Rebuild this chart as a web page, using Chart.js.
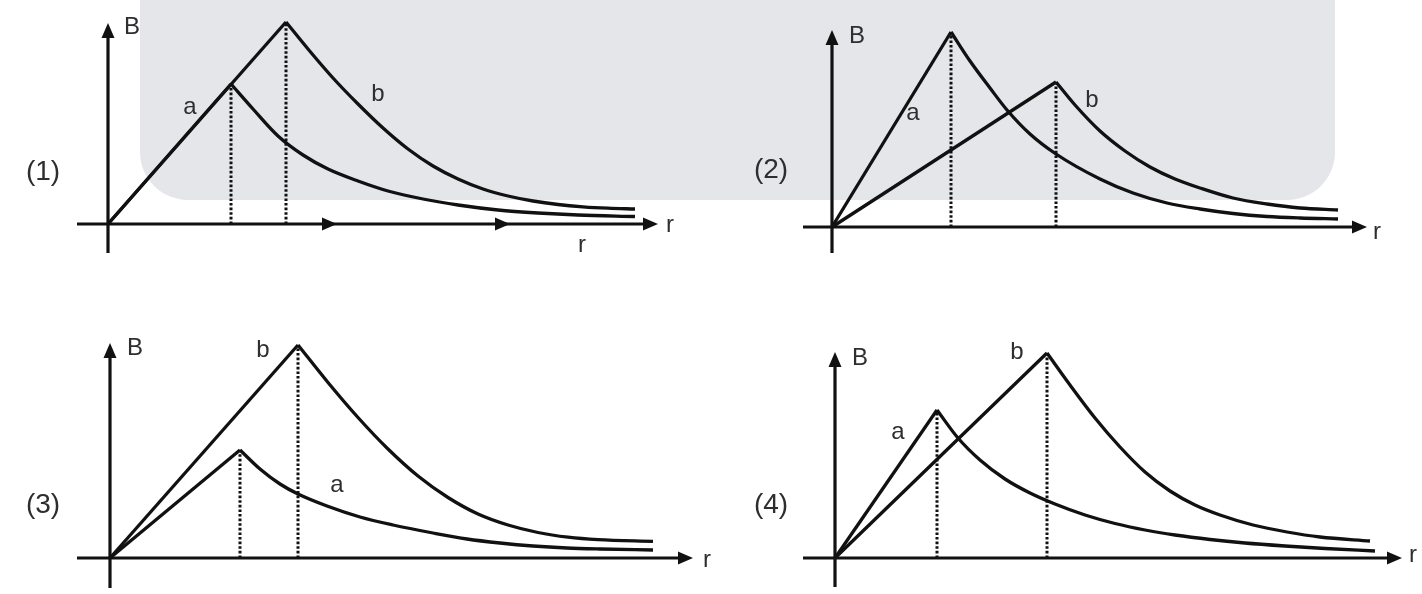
<!DOCTYPE html>
<html>
<head>
<meta charset="utf-8">
<script src="https://cdn.jsdelivr.net/npm/chart.js@4"></script>
<style>
  html, body { margin: 0; padding: 0; background: #fff; }
  #wrap { position: relative; width: 1422px; height: 594px; overflow: hidden; }
  #band { position: absolute; left: 140px; top: -60px; width: 1195px; height: 260px; background: #e4e6e9; border-radius: 48px; }
  canvas { position: absolute; }
</style>
</head>
<body>
<div id="wrap">
  <div id="band"></div>
  <canvas id="c1" width="711" height="297" style="left:0;top:0"></canvas>
  <canvas id="c2" width="711" height="297" style="left:711px;top:0"></canvas>
  <canvas id="c3" width="711" height="297" style="left:0;top:297px"></canvas>
  <canvas id="c4" width="711" height="297" style="left:711px;top:297px"></canvas>
</div>
<script>
// B against r for wires a and b, points as [r, B]; rise is straight, fall is the outside curve

// (1)
const a1Rise = [[0, 0], [12.3, 14.0]];
const a1Fall = [[12.3, 14.0], [14.5, 11.5], [17.0, 8.8], [19.5, 6.9], [22.0, 5.5], [25.0, 4.3], [28.0, 3.3],
                [31.5, 2.5], [35.0, 1.9], [39.0, 1.4], [43.0, 1.1], [47.0, 0.9], [52.7, 0.75]];
const b1Rise = [[0, 0], [17.8, 20.2]];
const b1Fall = [[17.8, 20.2], [20.0, 17.5], [22.5, 14.6], [25.0, 12.0], [27.5, 9.6], [30.0, 7.5], [32.5, 5.8],
                [35.0, 4.5], [37.5, 3.5], [40.0, 2.8], [42.5, 2.3], [45.0, 1.95], [47.5, 1.72], [50.0, 1.58], [52.7, 1.5]];

// (2)
const a2Rise = [[0, 0], [11.9, 19.5]];
const a2Fall = [[11.9, 19.5], [13.8, 16.6], [15.8, 13.9], [17.5, 11.7], [19.8, 9.3], [22.4, 7.3], [26.8, 4.8],
                [30.1, 3.4], [33.5, 2.4], [36.8, 1.8], [40.1, 1.35], [43.5, 1.05], [46.8, 0.9], [50.6, 0.8]];
const b2Rise = [[0, 0], [22.4, 14.5]];
const b2Fall = [[22.4, 14.5], [24.3, 12.2], [26.8, 9.6], [29.3, 7.6], [31.8, 6.0], [34.3, 4.8], [36.8, 3.9],
                [40.1, 2.9], [43.5, 2.3], [46.8, 1.9], [50.6, 1.7]];

// (3)
const a3Rise = [[0, 0], [13.0, 10.8]];
const a3Fall = [[13.0, 10.8], [15.0, 8.9], [17.0, 7.4], [18.8, 6.4], [21.7, 5.2], [25.0, 4.1], [28.3, 3.3],
                [32.3, 2.5], [35.7, 1.9], [39.0, 1.5], [42.3, 1.2], [45.7, 1.0], [49.0, 0.9], [54.3, 0.8]];
const b3Rise = [[0, 0], [18.8, 21.3]];
const b3Fall = [[18.8, 21.3], [21.8, 17.55], [24.8, 14.05], [27.8, 10.9], [30.8, 8.2], [33.8, 6.05], [36.8, 4.4],
                [39.8, 3.3], [42.8, 2.55], [45.8, 2.08], [48.8, 1.83], [54.3, 1.66]];

// (4)
const a4Rise = [[0, 0], [10.2, 14.8]];
const a4Fall = [[10.2, 14.8], [12.3, 12.0], [14.5, 9.8], [17.0, 7.9], [19.5, 6.5], [22.0, 5.4], [25.0, 4.3],
                [28.0, 3.45], [31.0, 2.8], [34.0, 2.3], [37.5, 1.85], [41.0, 1.5], [45.0, 1.2], [49.0, 0.95], [54.0, 0.7]];
const b4Rise = [[0, 0], [21.2, 20.5]];
const b4Fall = [[21.2, 20.5], [23.5, 17.3], [26.0, 14.0], [28.5, 11.1], [31.0, 8.6], [33.5, 6.7], [36.0, 5.3],
                [38.5, 4.3], [41.8, 3.3], [45.2, 2.6], [48.5, 2.1], [53.5, 1.7]];

const ink = '#111';
const textInk = '#2e2e2e';
const unit = 10; // px per unit on both axes

const panels = [
  { id: 'c1', box: [0, 0], origin: [108, 224], curves: [a1Rise, a1Fall, b1Rise, b1Fall],
    xAxis: [-3.1, 55.0], yAxis: [-2.9, 20.1], extraArrows: [22.9, 40.2],
    text: [['B', 2.4, 19.7], ['(1)', -6.5, 5.2, 28], ['a', 8.2, 11.7], ['b', 27.0, 13.0], ['r', 56.2, -0.1], ['r', 47.4, -2.1]] },
  { id: 'c2', box: [711, 0], origin: [832, 227], curves: [a2Rise, a2Fall, b2Rise, b2Fall],
    xAxis: [-2.9, 53.5], yAxis: [-2.6, 19.7], extraArrows: [],
    text: [['B', 2.5, 19.1], ['(2)', -6.1, 5.7, 28], ['a', 8.1, 11.4], ['b', 26.0, 12.7], ['r', 54.5, -0.5]] },
  { id: 'c3', box: [0, 297], origin: [110, 558], curves: [a3Rise, a3Fall, b3Rise, b3Fall],
    xAxis: [-3.3, 58.3], yAxis: [-3.0, 21.5], extraArrows: [],
    text: [['B', 2.5, 21.0], ['(3)', -6.7, 5.3, 28], ['a', 22.7, 7.3], ['b', 15.3, 20.8], ['r', 59.7, -0.2]] },
  { id: 'c4', box: [711, 297], origin: [835, 558], curves: [a4Rise, a4Fall, b4Rise, b4Fall],
    xAxis: [-3.2, 56.7], yAxis: [-2.9, 20.6], extraArrows: [],
    text: [['B', 2.5, 20.0], ['(4)', -6.4, 5.3, 28], ['a', 6.3, 12.6], ['b', 18.2, 20.6], ['r', 57.8, 0.3]] }
];

function arrowHead(ctx, x, y, dx, dy) {
  const len = 15, half = 6.5;
  ctx.beginPath();
  ctx.moveTo(x, y);
  ctx.lineTo(x - dx * len - dy * half, y - dy * len + dx * half);
  ctx.lineTo(x - dx * len + dy * half, y - dy * len - dx * half);
  ctx.closePath();
  ctx.fill();
}

// axes with arrow heads and the letters around them
const decor = {
  id: 'decor',
  beforeDatasetsDraw(chart, args, opts) {
    const { ctx, scales: { x, y } } = chart;
    const px = v => x.getPixelForValue(v), py = v => y.getPixelForValue(v);
    ctx.save();
    ctx.strokeStyle = ink;
    ctx.fillStyle = ink;
    ctx.lineWidth = 3.2;
    ctx.beginPath();
    ctx.moveTo(px(opts.xAxis[0]), py(0));
    ctx.lineTo(px(opts.xAxis[1]) - 8, py(0));
    ctx.moveTo(px(0), py(opts.yAxis[0]));
    ctx.lineTo(px(0), py(opts.yAxis[1]) + 8);
    ctx.stroke();
    arrowHead(ctx, px(opts.xAxis[1]), py(0), 1, 0);
    arrowHead(ctx, px(0), py(opts.yAxis[1]), 0, -1);
    opts.extraArrows.forEach(v => arrowHead(ctx, px(v), py(0), 1, 0));
    ctx.restore();
  },
  afterDatasetsDraw(chart, args, opts) {
    const { ctx, scales: { x, y } } = chart;
    ctx.save();
    ctx.fillStyle = textInk;
    ctx.textAlign = 'center';
    ctx.textBaseline = 'middle';
    opts.text.forEach(([t, r, b, size]) => {
      ctx.font = `${size || 24}px "Liberation Sans", Arial, sans-serif`;
      ctx.fillText(t, x.getPixelForValue(r), y.getPixelForValue(b));
    });
    ctx.restore();
  }
};

function line(points, smooth) {
  return {
    data: points,
    showLine: true,
    borderColor: ink,
    borderWidth: 3.3,
    pointRadius: 0,
    tension: smooth ? 0.4 : 0,
    cubicInterpolationMode: smooth ? 'monotone' : 'default',
    borderJoinStyle: 'round',
    clip: false
  };
}

function dropLine(fall) {
  const [r, b] = fall[0];
  return {
    data: [[r, 0], [r, b]],
    showLine: true,
    borderColor: ink,
    borderWidth: 3,
    borderDash: [2.6, 2],
    pointRadius: 0,
    clip: false
  };
}

panels.forEach(p => {
  const canvas = document.getElementById(p.id);
  const [ox, oy] = p.origin;
  const [cx, cy] = p.box;
  const [aRise, aFall, bRise, bFall] = p.curves;
  new Chart(canvas, {
    type: 'scatter',
    data: {
      datasets: [
        dropLine(aFall), dropLine(bFall),
        line(aRise, false), line(bRise, false),
        line(aFall, true), line(bFall, true)
      ]
    },
    options: {
      responsive: false,
      animation: false,
      layout: { padding: 0 },
      events: [],
      scales: {
        x: { type: 'linear', display: false, min: -(ox - cx) / unit, max: (cx + canvas.width - ox) / unit },
        y: { type: 'linear', display: false, min: -(cy + canvas.height - oy) / unit, max: (oy - cy) / unit }
      },
      plugins: {
        legend: { display: false },
        tooltip: { enabled: false },
        decor: { xAxis: p.xAxis, yAxis: p.yAxis, extraArrows: p.extraArrows, text: p.text }
      }
    },
    plugins: [decor]
  });
});
</script>
</body>
</html>
